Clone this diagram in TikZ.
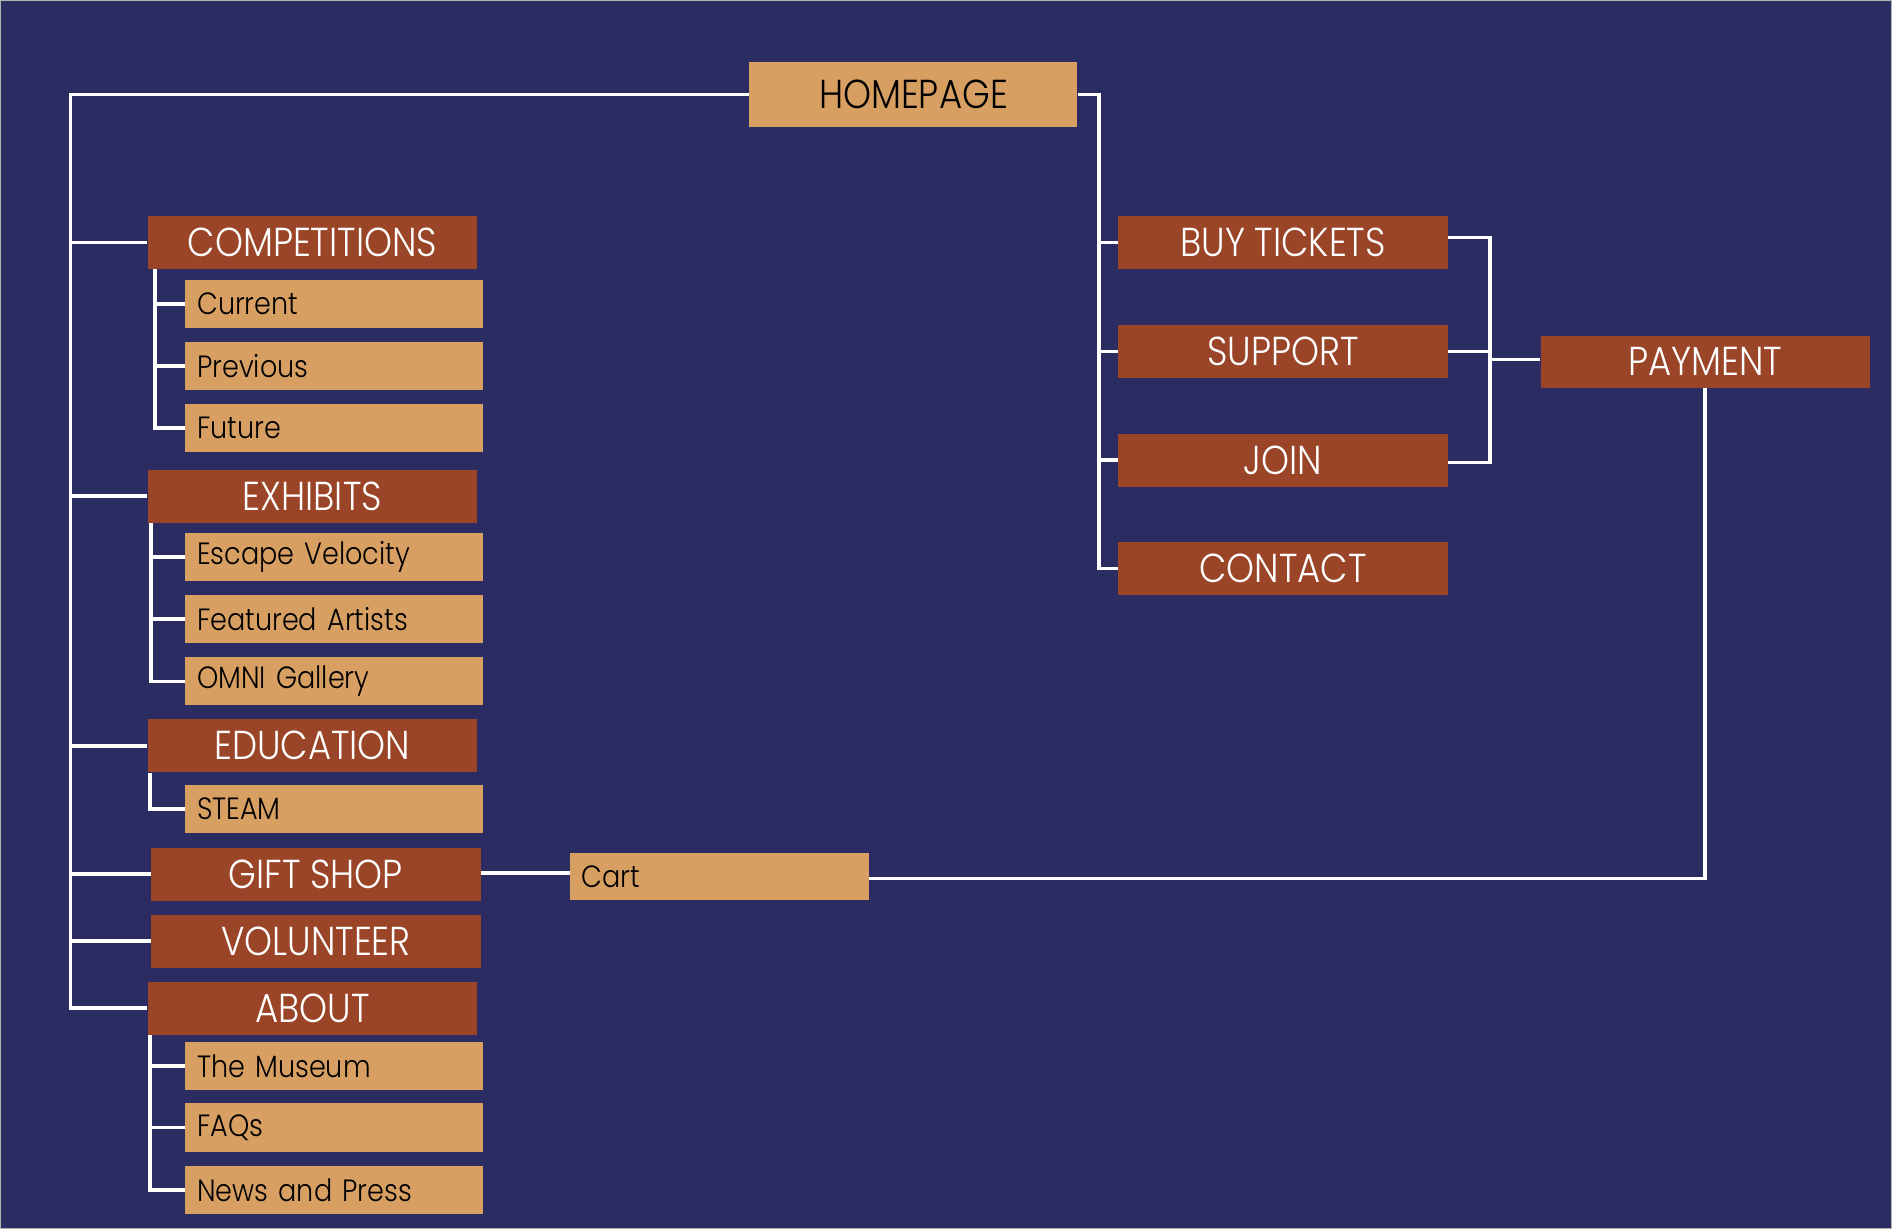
\documentclass[tikz,border=0pt]{standalone}
\usepackage{fontspec}
\setmainfont{Poppins}[UprightFont={* Light}, FakeStretch=0.88]
\definecolor{navy}{HTML}{2B2D62}
\definecolor{rust}{HTML}{9A4528}
\definecolor{tan}{HTML}{D7A062}
\begin{document}
\begin{tikzpicture}[x=1pt,y=-1pt,
  darkbox/.style={fill=rust, text=white, inner sep=0pt, minimum width=273pt, minimum height=44pt, font=\fontsize{33.5}{38}\selectfont},
  lightbox/.style={fill=tan, text=black, inner sep=0pt, inner xsep=10pt, text width=227pt, align=left, minimum height=40pt, font=\fontsize{25.5}{31}\selectfont},
  link/.style={draw=white, line width=3pt}]
\path[fill=navy, draw=gray!60, line width=1pt] (0,0) rectangle (1568,1018);
\useasboundingbox (0,0) rectangle (1568,1018);

\node[darkbox, fill=tan, text=black, minimum width=272pt, minimum height=54pt] (home) at (757,78) {HOMEPAGE};

\node[darkbox] (comp) at (258.5,200.5) {COMPETITIONS};
\node[lightbox] (cur) at (276.5,251.5) {Current};
\node[lightbox] (prev) at (276.5,303) {Previous};
\node[lightbox] (fut) at (276.5,354.5) {Future};

\node[darkbox] (exh) at (258.5,411) {EXHIBITS};
\node[lightbox] (esc) at (276.5,461.5) {Escape Velocity};
\node[lightbox] (feat) at (276.5,513) {Featured Artists};
\node[lightbox] (omni) at (276.5,564.5) {OMNI Gallery};

\node[darkbox] (edu) at (258.5,618) {EDUCATION};
\node[lightbox] (steam) at (276.5,670.5) {STEAM};

\node[darkbox] (gift) at (261.5,724.5) {GIFT SHOP};
\node[darkbox] (vol) at (261.5,780) {VOLUNTEER};
\node[darkbox] (about) at (258.5,835.5) {ABOUT};
\node[lightbox] (mus) at (276.5,883.5) {The Museum};
\node[lightbox] (faq) at (276.5,934.5) {FAQs};
\node[lightbox] (news) at (276.5,986.5) {News and Press};

\node[lightbox, text width=228pt, minimum height=39pt] (cart) at (596,726.5) {Cart};

\node[darkbox] (buy) at (1063.5,200.5) {BUY TICKETS};
\node[darkbox] (sup) at (1063.5,291) {SUPPORT};
\node[darkbox] (join) at (1063.5,381) {JOIN};
\node[darkbox] (contact) at (1063.5,471) {CONTACT};
\node[darkbox, minimum height=43pt] (pay) at (1413.5,299.5) {PAYMENT};

\coordinate (trunkL) at (58,0);
\coordinate (trunkR) at (911,0);
\coordinate (brk) at (1235,0);

% left trunk
\draw[link] (home.west) -- (home.west -| trunkL) |- (about.west);
\foreach \n in {comp,exh,edu,gift,vol}
  \draw[link] (trunkL |- \n.west) -- (\n.west);

% sub trees
\draw[link] ([xshift=6pt]comp.south west) |- (fut.west);
\foreach \n in {cur,prev}
  \draw[link] ([xshift=6pt]comp.south west |- \n.west) -- (\n.west);
\draw[link] ([xshift=3pt]exh.south west) |- (omni.west);
\foreach \n in {esc,feat}
  \draw[link] ([xshift=3pt]exh.south west |- \n.west) -- (\n.west);
\draw[link] ([xshift=2pt]edu.south west) |- (steam.west);
\draw[link] ([xshift=2pt]about.south west) |- (news.west);
\foreach \n in {mus,faq}
  \draw[link] ([xshift=2pt]about.south west |- \n.west) -- (\n.west);

% right trunk
\draw[link] (home.east) -- (home.east -| trunkR) |- (contact.west);
\foreach \n in {buy,sup,join}
  \draw[link] (trunkR |- \n.west) -- (\n.west);

% bracket to payment
\draw[link] ([yshift=4pt]buy.east) -- ([yshift=4pt]buy.east -| brk) |- ([yshift=-2pt]join.east);
\draw[link] (sup.east) -- (sup.east -| brk);
\draw[link] ([yshift=2pt]brk |- pay.west) -- ([yshift=2pt]pay.west);

% gift shop - cart - payment
\draw[link] ([yshift=1pt]gift.east) -- ([yshift=1pt]gift.east -| cart.west);
\draw[link] (pay.south) |- ([yshift=-1.5pt]cart.east);
\end{tikzpicture}
\end{document}
